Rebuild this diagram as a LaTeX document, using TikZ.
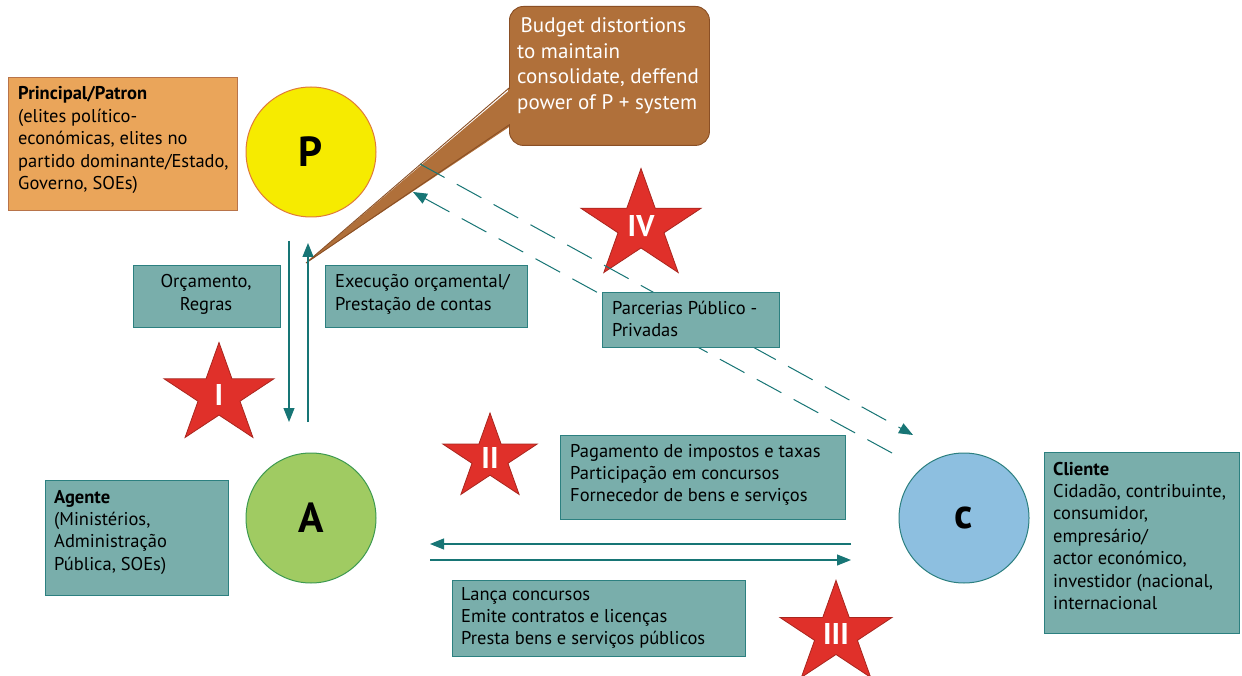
\documentclass[tikz,border=0pt]{standalone}
\usepackage{fontspec}
\setmainfont{PT Sans}
\usetikzlibrary{arrows.meta,calc}
\definecolor{orangebox}{HTML}{EAA55A}
\definecolor{orangeline}{HTML}{B8744A}
\definecolor{yellowc}{HTML}{F6EB00}
\definecolor{yellowline}{HTML}{E07B39}
\definecolor{tealbox}{HTML}{79AEAB}
\definecolor{tealline}{HTML}{2C8080}
\definecolor{greenc}{HTML}{A0CB62}
\definecolor{greenline}{HTML}{3E9A50}
\definecolor{bluec}{HTML}{8DBFE0}
\definecolor{brownc}{HTML}{B0703A}
\definecolor{brownline}{HTML}{8A4F25}
\definecolor{starred}{HTML}{E0302A}
\definecolor{starline}{HTML}{A8261E}
\definecolor{arrowteal}{HTML}{177575}
\newcommand\bxfont{\fontsize{18.5}{22.4}\selectfont}
\newcommand\ltab[1]{\begin{tabular}[t]{@{}l@{}}#1\end{tabular}}
\newcommand\ctab[1]{\begin{tabular}[t]{@{}c@{}}#1\end{tabular}}
\newcommand\drawmystar[5]{%
  \begin{scope}[shift={(#1,#2)},xscale=1.1]
    \filldraw[fill=starred,draw=starline,line width=0.8pt]
      (-90:#3) -- (-54:0.382*#3) -- (-18:#3) -- (18:0.382*#3) -- (54:#3) -- (90:0.382*#3)
      -- (126:#3) -- (162:0.382*#3) -- (198:#3) -- (234:0.382*#3) -- cycle;
  \end{scope}
  \node[startext] (#4) at (#1,#2) {#5};}
\begin{document}
\begin{tikzpicture}[x=1pt,y=-1pt,
  tbox/.style={draw=tealline,fill=tealbox,line width=0.9pt,inner sep=0pt,anchor=north west},
  txt/.style={inner sep=0pt,anchor=base west,font=\bxfont,text=black},
  ctxt/.style={inner sep=0pt,anchor=base,font=\bxfont,text=black},
  startext/.style={inner sep=0pt,text=white,font=\fontsize{30}{32}\selectfont\bfseries},
  circlab/.style={inner sep=0pt,font=\fontsize{42}{44}\selectfont\bfseries},
  arr/.style={draw=arrowteal,line width=1.1pt,-{Triangle[length=14pt,width=11pt]}},
  darr/.style={draw=arrowteal,line width=1pt,dash pattern=on 28pt off 14pt,-{Triangle[length=14pt,width=11pt]}}
]
\useasboundingbox (0,0) rectangle (1242,676);
\fill[white] (0,0) rectangle (1242,676);

% Principal box
\node[draw=orangeline,fill=orangebox,line width=0.9pt,inner sep=0pt,anchor=north west,minimum width=229pt,minimum height=133pt] (bP) at (8,77) {};
\node[txt] (tP) at (18,100) {\ltab{\textbf{Principal/Patron}\\(elites político-\\económicas, elites no\\partido dominante/Estado,\\Governo, SOEs)}};

% circles
\node[circle,draw=yellowline,fill=yellowc,line width=1pt,minimum size=130pt,inner sep=0pt] (P) at (311,152) {};
\node[circlab] (Plab) at (311,152) {P};
\node[circle,draw=greenline,fill=greenc,line width=1pt,minimum size=130pt,inner sep=0pt] (A) at (311,518) {};
\node[circlab] (Alab) at (311,518) {A};
\node[circle,draw=tealline,fill=bluec,line width=1pt,minimum size=130pt,inner sep=0pt] (C) at (964,518) {};
\node[circlab] (Clab) at (964,518) {c};

% callout
\fill[brownc] (512,88) -- (512,125) -- (306,263) -- cycle;
\draw[brownline,line width=0.9pt] (509,88) -- (306,263) -- (509,125);
\node[draw=brownline,fill=brownc,line width=0.9pt,rounded corners=14pt,inner sep=0pt,anchor=north west,minimum width=200pt,minimum height=139pt] (callbox) at (509,6) {};
\fill[brownc] (508.4,89) rectangle (511,124);
\node[txt,text=white,font=\fontsize{21}{25.5}\selectfont] (calltxt) at (517,33) {\ltab{\,Budget distortions\\to maintain\\consolidate, deffend\\power of P + system}};

% vertical arrows
\coordinate (d1) at (289,241);
\coordinate (d2) at (289,422);
\coordinate (u1) at (308,422);
\coordinate (u2) at (308,243);
\draw[arr] (d1) -- (d2);
\draw[arr] (u1) -- (u2);

% boxes near vertical arrows
\node[tbox,minimum width=147pt,minimum height=62pt] (bOrc) at (133,265) {};
\node[ctxt] (tOrc) at (206,288) {\ctab{Orçamento,\\Regras}};
\node[tbox,minimum width=202pt,minimum height=62pt] (bExe) at (325,265) {};
\node[txt] (tExe) at (335,288) {\ltab{Execução orçamental/\\Prestação de contas}};

% stars
\drawmystar{219}{395}{52.5}{sI}{I}
\drawmystar{641}{226}{57.5}{sIV}{IV}
\drawmystar{490}{458}{45}{sII}{II}
\drawmystar{836}{634}{53.6}{sIII}{III}

% dashed arrows
\coordinate (p1) at (420,164);
\coordinate (p2) at (913,435);
\coordinate (q1) at (892,453);
\coordinate (q2) at (413,192);
\draw[darr] (p1) -- (p2);
\draw[darr] (q1) -- (q2);

% Parcerias
\node[tbox,minimum width=177pt,minimum height=55pt] (bPPP) at (602,292) {};
\node[txt] (tPPP) at (612,314) {\ltab{Parcerias Público -\\Privadas}};

% Agente
\node[tbox,minimum width=183pt,minimum height=115pt] (bA) at (45,480) {};
\node[txt] (tA) at (54,503) {\ltab{\textbf{Agente}\\(Ministérios,\\Administração\\Pública, SOEs)}};

% Pagamento
\node[tbox,minimum width=285pt,minimum height=84pt] (bPag) at (560,435) {};
\node[txt] (tPag) at (570,457) {\ltab{Pagamento de impostos e taxas\\Participação em concursos\\Fornecedor de bens e serviços}};

% horizontal arrows
\coordinate (h1) at (851,544);
\coordinate (h2) at (430,544);
\coordinate (h3) at (430,560);
\coordinate (h4) at (851,560);
\draw[arr] (h1) -- (h2);
\draw[arr] (h3) -- (h4);

% Lança
\node[tbox,minimum width=293pt,minimum height=76pt] (bLan) at (452,580) {};
\node[txt] (tLan) at (461,600) {\ltab{Lança concursos\\Emite contratos e licenças\\Presta bens e serviços públicos}};

% Cliente
\node[tbox,minimum width=195pt,minimum height=181pt] (bC) at (1044,452) {};
\node[txt] (tC) at (1053,475) {\ltab{\textbf{Cliente}\\Cidadão, contribuinte,\\consumidor,\\empresário/\\actor económico,\\investidor (nacional,\\internacional}};

\end{tikzpicture}
\end{document}
